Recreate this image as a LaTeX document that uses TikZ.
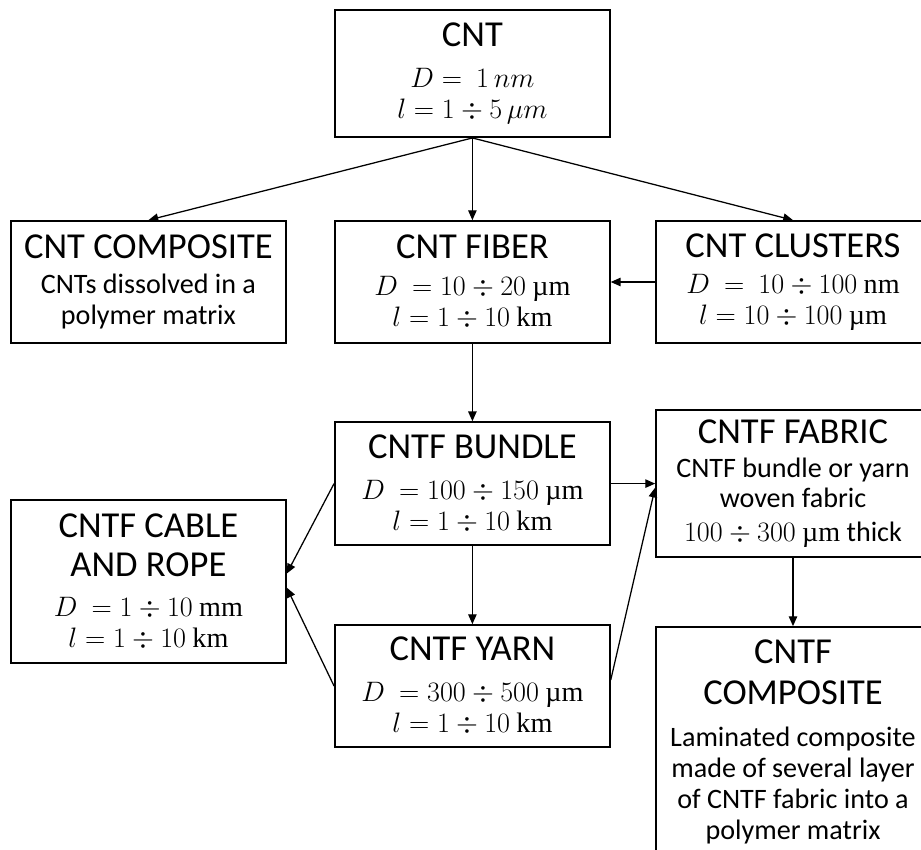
\documentclass[tikz,border=0pt]{standalone}
\usepackage{fix-cm}
\usepackage{amsmath}
\usepackage{fontspec}
\setmainfont{Carlito}
\newfontfamily\unitfont{Liberation Serif}
\newcommand{\unt}[1]{\text{\unitfont #1}}
\newcommand{\um}{\unt{µm}}
\newcommand{\ttl}[1]{{\fontsize{26}{30}\selectfont #1}}
\usetikzlibrary{arrows.meta}
\tikzset{
  box/.style={draw,line width=1.2pt,minimum width=6.875cm,align=center,inner sep=2pt,
    font=\fontsize{20}{22}\selectfont},
  arr/.style={->,>={Triangle[length=7pt,width=6pt]},line width=0.9pt},
}
\begin{document}
\begin{tikzpicture}
\useasboundingbox (0,0) rectangle (23.025,-21.25);
\clip (0,0) rectangle (23.025,-21.25);
%\draw[help lines] (0,0) grid (23,-21);
\node[box,minimum height=3.175cm] (cnt) at (11.81,-1.84)
  {\ttl{CNT}\\[7pt] $D =\ 1\,nm$\\ $l = 1 \div 5\,\mu m$};
\node[box,minimum height=3.05cm] (ccomp) at (3.71,-7.05)
  {\ttl{CNT COMPOSITE}\\[3pt] CNTs dissolved in a\\ polymer matrix};
\node[box,minimum height=3.05cm] (fiber) at (11.81,-7.05)
  {\ttl{CNT FIBER}\\[4pt] $D\ = 10 \div 20\ \um$\\ $l = 1 \div 10\ \unt{km}$};
\node[box,minimum height=3.05cm,minimum width=6.85cm] (clusters) at (19.825,-7.05)
  {\ttl{CNT CLUSTERS}\\[4pt] $D\ =\ 10 \div 100\ \unt{nm}$\\ $l = 10 \div 100\ \um$};
\node[box,minimum height=3.075cm] (bundle) at (11.81,-12.09)
  {\ttl{CNTF BUNDLE}\\[7pt] $D\ = 100 \div 150\ \um$\\ $l = 1 \div 10\ \unt{km}$};
\node[box,minimum height=3.675cm,minimum width=6.85cm] (fabric) at (19.825,-12.09)
  {\ttl{CNTF FABRIC}\\[2pt] CNTF bundle or yarn\\ woven fabric\\[2pt] $100 \div 300\ \um$ thick};
\node[box,minimum height=4.075cm] (cable) at (3.71,-14.54)
  {\ttl{CNTF CABLE}\\[6pt] \ttl{AND ROPE}\\[6pt] $D\ = 1 \div 10\ \unt{mm}$\\ $l = 1 \div 10\ \unt{km}$};
\node[box,minimum height=3.05cm] (yarn) at (11.81,-17.15)
  {\ttl{CNTF YARN}\\[7pt] $D\ = 300 \div 500\ \um$\\ $l = 1 \div 10\ \unt{km}$};
\node[box,minimum height=5.75cm,minimum width=6.85cm] (tcomp) at (19.825,-18.55)
  {\ttl{CNTF}\\[7pt] \ttl{COMPOSITE}\\[8pt] Laminated composite\\ made of several layer\\
   of CNTF fabric into a\\ polymer matrix};
\draw[arr] (cnt.south)--(ccomp.north);
\draw[arr] (cnt.south)--(fiber.north);
\draw[arr] (cnt.south)--(clusters.north);
\draw[arr] (clusters.west)--(fiber.east);
\draw[arr] (fiber.south)--(bundle.north);
\draw[arr] (bundle.south)--(yarn.north);
\draw[arr] (bundle.west)--([yshift=0.2cm]cable.east);
\draw[arr] (yarn.west)--([yshift=-0.15cm]cable.east);
\draw[arr] (bundle.east)--(fabric.west);
\draw[arr] ([yshift=0.15cm]yarn.east)--([yshift=-0.1cm]fabric.west);
\draw[arr] (fabric.south)--(tcomp.north);
\end{tikzpicture}
\end{document}
